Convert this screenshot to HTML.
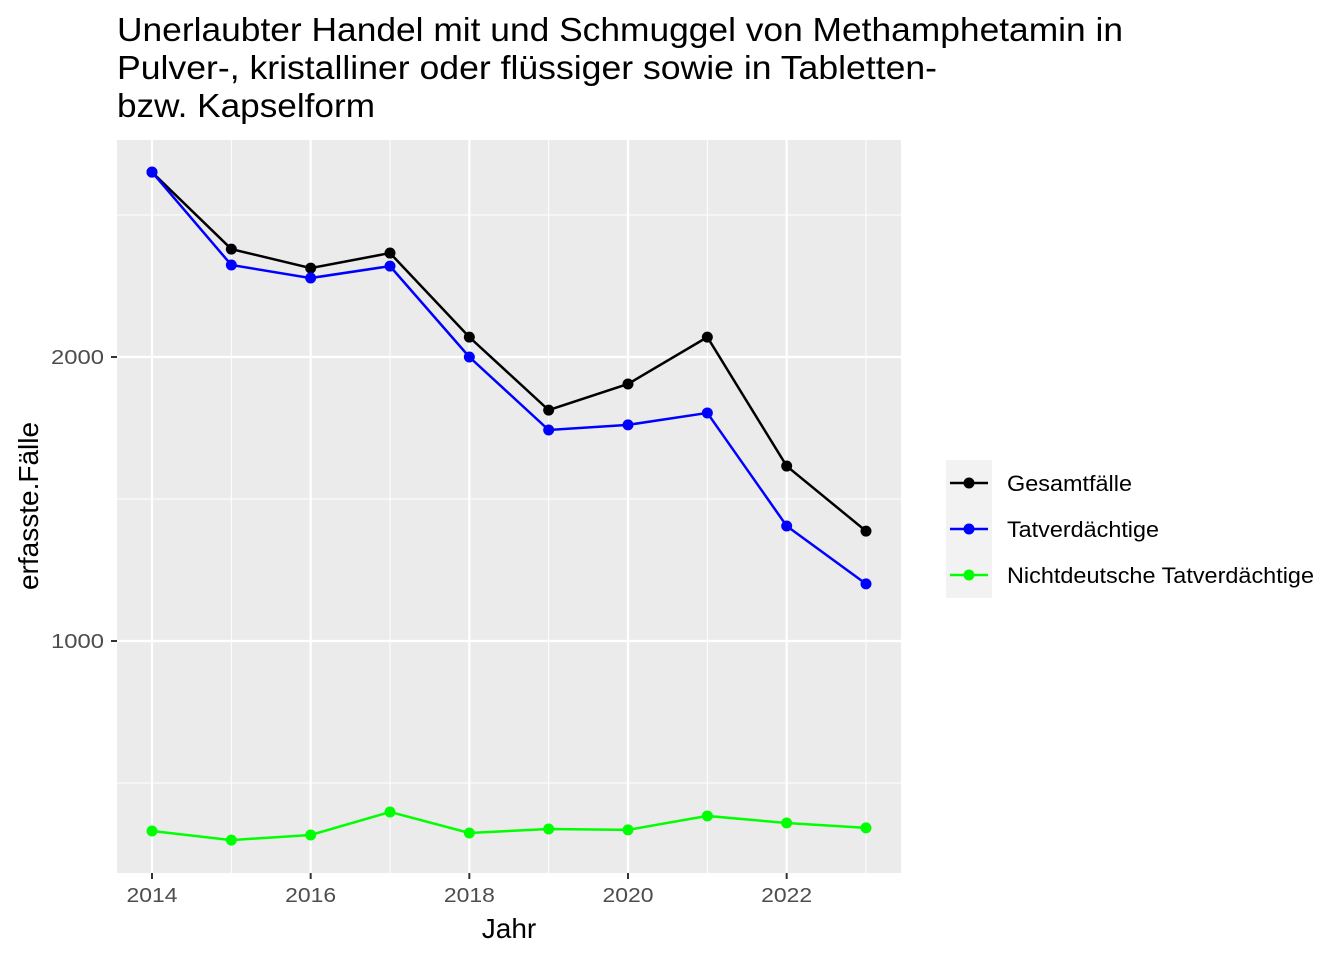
<!DOCTYPE html>
<html><head><meta charset="utf-8"><style>
body{margin:0;background:#fff;font-family:"Liberation Sans",sans-serif}
</style></head><body>
<svg width="1344" height="960" xmlns="http://www.w3.org/2000/svg" font-family="Liberation Sans, sans-serif">
<g font-size="33" fill="#000">
<text x="117" y="41" textLength="1006" lengthAdjust="spacingAndGlyphs">Unerlaubter Handel mit und Schmuggel von Methamphetamin in</text>
<text x="117" y="79" textLength="820" lengthAdjust="spacingAndGlyphs">Pulver-, kristalliner oder flüssiger sowie in Tabletten-</text>
<text x="117" y="117" textLength="258" lengthAdjust="spacingAndGlyphs">bzw. Kapselform</text>
</g>
<rect x="117" y="140" width="784" height="733" fill="#ebebeb"/>
<g id="grid"></g>
<g id="series"></g>
<g id="axes"></g>
<text x="509" y="938" font-size="28" text-anchor="middle">Jahr</text>
<text transform="translate(38,506) rotate(-90)" font-size="28" text-anchor="middle">erfasste.Fälle</text>
<g>
<rect x="946" y="460" width="46" height="138" fill="#f2f2f2"/>
<g><line x1="950" x2="988" y1="483" y2="483" stroke="#000" stroke-width="2.5"/><circle cx="969" cy="483" r="5.5" fill="#000"/><text x="1007" y="491" font-size="22" textLength="125" lengthAdjust="spacingAndGlyphs">Gesamtfälle</text></g>
<g><line x1="950" x2="988" y1="529" y2="529" stroke="#0000ff" stroke-width="2.5"/><circle cx="969" cy="529" r="5.5" fill="#0000ff"/><text x="1007" y="537" font-size="22" textLength="152" lengthAdjust="spacingAndGlyphs">Tatverdächtige</text></g>
<g><line x1="950" x2="988" y1="575" y2="575" stroke="#00ff00" stroke-width="2.5"/><circle cx="969" cy="575" r="5.5" fill="#00ff00"/><text x="1007" y="583" font-size="22" textLength="307" lengthAdjust="spacingAndGlyphs">Nichtdeutsche Tatverdächtige</text></g>
</g>
</svg>
<script>
const years=[2014,2015,2016,2017,2018,2019,2020,2021,2022,2023];
const gesamt=[2651,2380,2313,2366,2070,1813,1905,2070,1616,1387];
const tatv=[2651,2324,2278,2320,2000,1743,1761,1803,1405,1201];
const nicht=[331,299,317,398,324,338,335,384,359,342];
const yTicks=[1000,2000];
const yMinor=[500,1500,2500];
const xTicks=[2014,2016,2018,2020,2022];
const NS='http://www.w3.org/2000/svg';
const xs=v=>152+(v-2014)*(866-152)/9;
const ys=v=>925-v*0.284;
function mk(t,a,p){const e=document.createElementNS(NS,t);for(const k in a)e.setAttribute(k,a[k]);p.appendChild(e);return e;}
const grid=document.getElementById('grid'),ax=document.getElementById('axes'),ser=document.getElementById('series');
yMinor.forEach(v=>{const l=mk('line',{x1:117,x2:901,y1:ys(v),y2:ys(v),stroke:'#fff','stroke-width':1},grid);

});
years.forEach(v=>{if(v%2){const l=mk('line',{x1:xs(v),x2:xs(v),y1:140,y2:873,stroke:'#fff','stroke-width':1},grid);

}});
yTicks.forEach(v=>{const l=mk('line',{x1:117,x2:901,y1:ys(v),y2:ys(v),stroke:'#fff','stroke-width':2.2},grid);


const t=mk('line',{x1:111,x2:117,y1:ys(v),y2:ys(v),stroke:'#333','stroke-width':2},ax);


const tx=mk('text',{x:104,y:ys(v)+7,'font-size':20,fill:'#4d4d4d','text-anchor':'end',textLength:53,lengthAdjust:'spacingAndGlyphs'},ax);tx.textContent=v;

});
xTicks.forEach(v=>{const l=mk('line',{x1:xs(v),x2:xs(v),y1:140,y2:873,stroke:'#fff','stroke-width':2.2},grid);


const t=mk('line',{x1:xs(v),x2:xs(v),y1:873,y2:879,stroke:'#333','stroke-width':2},ax);


const tx=mk('text',{x:xs(v),y:902,'font-size':20,fill:'#4d4d4d','text-anchor':'middle',textLength:51,lengthAdjust:'spacingAndGlyphs'},ax);tx.textContent=v;

});
[[gesamt,'#000','gesamt'],[tatv,'#0000ff','tatverdaechtige'],[nicht,'#00ff00','nichtdeutsche']].forEach(([d,c,n])=>{
const p=mk('polyline',{points:d.map((v,i)=>xs(years[i])+','+ys(v)).join(' '),fill:'none',stroke:c,'stroke-width':2.5},ser);


d.forEach((v,i)=>{const c2=mk('circle',{cx:xs(years[i]),cy:ys(v),r:5.5,fill:c},ser);

});});
</script>
</body></html>
